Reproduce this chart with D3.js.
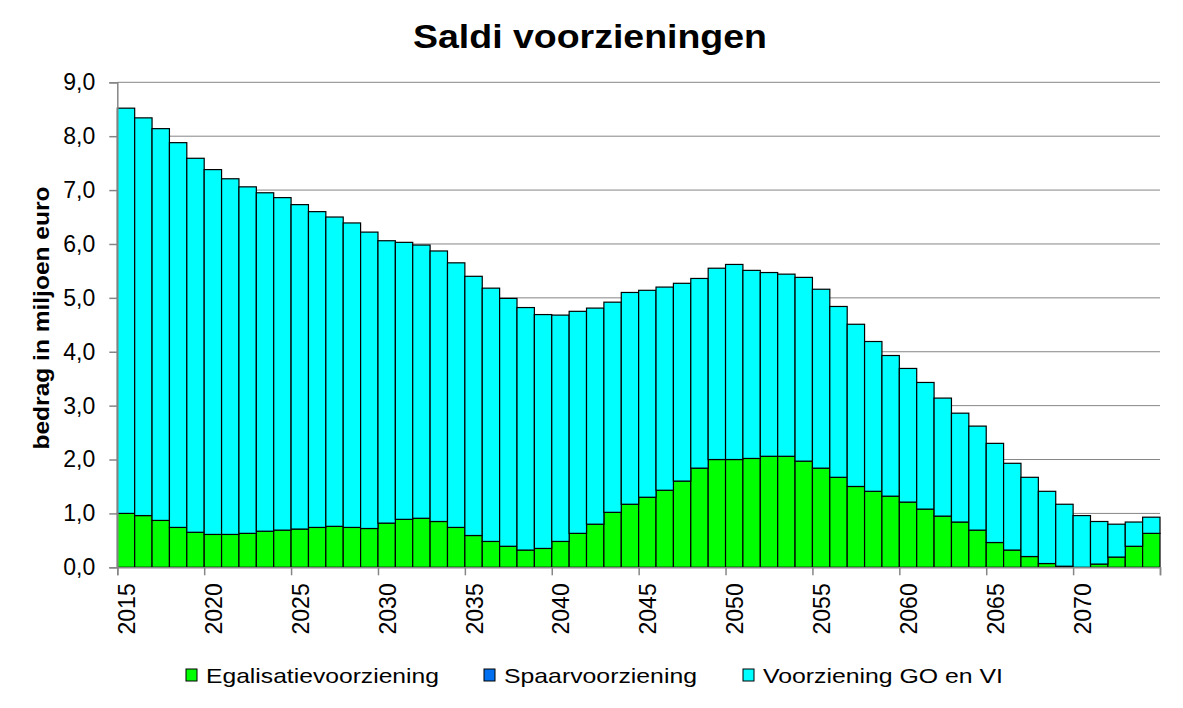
<!DOCTYPE html>
<html>
<head>
<meta charset="utf-8">
<script src="https://cdn.jsdelivr.net/npm/d3@7"></script>
<style>
  html, body { margin: 0; padding: 0; background: #fff; }
  svg { display: block; font-family: "Liberation Sans", Arial, sans-serif; }
</style>
</head>
<body>
<svg id="chart" width="1183" height="708"></svg>
<script>
const years = d3.range(2015, 2075);
const egalisatie = [1.00,0.96,0.87,0.74,0.65,0.61,0.61,0.63,0.67,0.69,
  0.71,0.74,0.76,0.74,0.72,0.82,0.89,0.91,0.85,0.74,
  0.59,0.48,0.39,0.32,0.35,0.48,0.63,0.80,1.02,1.17,
  1.30,1.43,1.60,1.84,2.00,2.00,2.02,2.06,2.06,1.97,
  1.84,1.67,1.50,1.41,1.32,1.21,1.08,0.95,0.84,0.69,
  0.46,0.32,0.20,0.07,0.02,0.00,0.06,0.19,0.39,0.63];
const spaar = new Array(60).fill(0);
const voorzieningGO = [7.52,7.38,7.27,7.14,6.94,6.77,6.60,6.43,6.28,6.17,
  6.02,5.86,5.74,5.65,5.50,5.24,5.14,5.07,5.02,4.91,
  4.81,4.70,4.60,4.50,4.34,4.20,4.12,4.01,3.90,3.93,
  3.84,3.77,3.67,3.52,3.55,3.62,3.49,3.41,3.38,3.41,
  3.32,3.17,3.01,2.78,2.61,2.48,2.35,2.19,2.02,1.93,
  1.84,1.61,1.47,1.34,1.15,0.96,0.79,0.61,0.45,0.30];
const seriesNames = ["Egalisatievoorziening", "Spaarvoorziening", "Voorziening GO en VI"];
const seriesColors = ["#00FF00", "#0070F0", "#00FFFF"];
const yTicks = [0,1,2,3,4,5,6,7,8,9];
const xLabelYears = d3.range(2015, 2075, 5);

const svg = d3.select("#chart");
const plotLeft = 117.3, plotRight = 1160, plotTop = 82.3, plotBottom = 567.3;

const x = d3.scaleBand().domain(years).range([plotLeft, plotRight]).padding(0);
const xEdge = d3.scaleLinear().domain([0, years.length]).range([plotLeft, plotRight]);
const y = d3.scaleLinear().domain([0, 9]).range([plotBottom, plotTop]);

// Title
svg.append("text").attr("x", 413).attr("y", 48)
  .attr("font-size", 33).attr("font-weight", "bold")
  .attr("textLength", 354).attr("lengthAdjust", "spacingAndGlyphs")
  .text("Saldi voorzieningen");

// Gridlines
svg.append("g").selectAll("line").data(yTicks.filter(d => d > 0)).join("line")
  .attr("x1", plotLeft).attr("x2", plotRight)
  .attr("y1", d => y(d)).attr("y2", d => y(d))
  .attr("stroke", "#868686").attr("stroke-width", 1);

// Stacked data
const rows = years.map((yr, i) => ({ year: yr, egal: egalisatie[i], spaar: spaar[i], go: voorzieningGO[i] }));
const stack = d3.stack().keys(["egal", "spaar", "go"]);
const stacked = stack(rows);

svg.append("g").selectAll("g").data(stacked).join("g")
  .attr("fill", (d, i) => seriesColors[i])
  .selectAll("rect").data(d => d.filter(p => p[1] - p[0] > 0)).join("rect")
  .attr("x", d => x(d.data.year))
  .attr("width", x.bandwidth())
  .attr("y", d => y(d[1]))
  .attr("height", d => y(d[0]) - y(d[1]))
  .attr("stroke", "#000").attr("stroke-width", 1.2);

// Y axis
const yAxis = d3.axisLeft(y).tickValues(yTicks).tickSize(8).tickPadding(14)
  .tickFormat(d => d3.format(".1f")(d).replace(".", ","));
const gy = svg.append("g").attr("transform", `translate(${plotLeft},0)`).call(yAxis);
gy.select(".domain").attr("stroke", "#868686").attr("stroke-width", 1.5);
gy.selectAll(".tick line").attr("stroke", "#868686").attr("stroke-width", 1.5);
gy.selectAll(".tick text").attr("font-size", 23).attr("fill", "#000")
  .attr("font-family", "'Liberation Sans', Arial, sans-serif");

// X axis ticks at band edges
const xAxis = d3.axisBottom(xEdge).tickValues(d3.range(0, years.length + 1, 5)).tickSize(8).tickFormat("");
const gx = svg.append("g").attr("transform", `translate(0,${plotBottom})`).call(xAxis);
gx.select(".domain").attr("stroke", "#868686").attr("stroke-width", 1.5);
gx.selectAll(".tick line").attr("stroke", "#868686").attr("stroke-width", 1.5);

// X labels, rotated
svg.append("g").selectAll("text").data(xLabelYears).join("text")
  .attr("transform", d => `translate(${x(d) + x.bandwidth() / 2 + 9},${plotBottom + 16}) rotate(-90)`)
  .attr("text-anchor", "end")
  .attr("font-size", 23)
  .text(d => d);

// Y axis title
svg.append("text").attr("transform", `translate(49,318) rotate(-90)`)
  .attr("text-anchor", "middle").attr("font-size", 22).attr("font-weight", "bold")
  .attr("textLength", 263).attr("lengthAdjust", "spacingAndGlyphs")
  .text("bedrag in miljoen euro");

// Legend
const legendX = [186, 484, 743];
const legendTextLen = [233, 193, 240];
const lg = svg.append("g").selectAll("g").data(seriesNames).join("g")
  .attr("transform", (d, i) => `translate(${legendX[i]},669)`);
lg.append("rect").attr("width", 11).attr("height", 12)
  .attr("fill", (d, i) => seriesColors[i]).attr("stroke", "#000").attr("stroke-width", 1);
lg.append("text").attr("x", 20).attr("y", 14).attr("font-size", 21)
  .attr("textLength", (d, i) => legendTextLen[i]).attr("lengthAdjust", "spacingAndGlyphs")
  .text(d => d);
</script>
</body>
</html>
